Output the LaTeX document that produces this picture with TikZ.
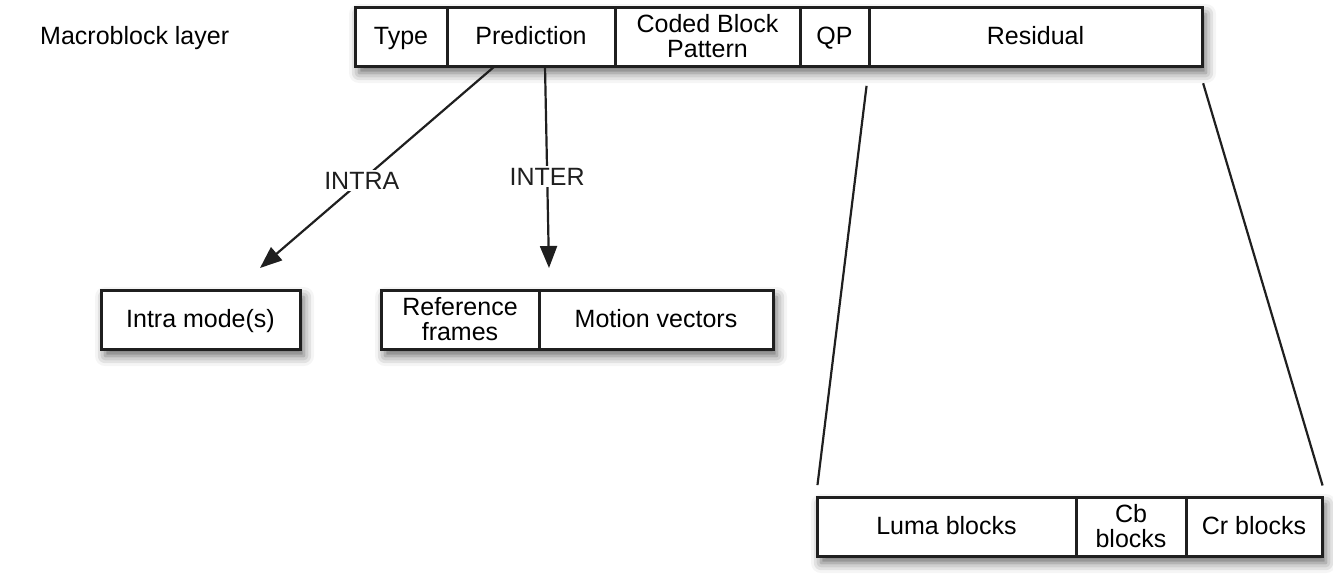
\documentclass[tikz,border=0pt]{standalone}
\usepackage{fontspec}
\setmainfont{Liberation Sans}
\usetikzlibrary{arrows.meta,positioning,fit,backgrounds,shadows.blur}

\begin{document}
\begin{tikzpicture}[x=1pt, y=-1pt,
		cell/.style={rectangle, draw=black!88, line width=3pt, fill=white,
				minimum height=59pt, inner sep=0pt, outer sep=0pt,
				align=center, font=\fontsize{25}{25}\selectfont},
		one/.style={cell, text height=18pt, text depth=3pt},
		shade/.style={rectangle, inner sep=0pt, fill=white,
				blur shadow={shadow xshift=4pt, shadow yshift=-7pt,
				shadow blur radius=10pt, shadow opacity=60}},
		arr/.style={-{Triangle[length=22pt, width=17pt]}, line width=2.2pt, black!88},
		lnk/.style={line width=2.2pt, black!88},
		lbl/.style={fill=white, inner sep=2pt, font=\fontsize{25}{25}\selectfont},
		]
		\useasboundingbox (0,0) rectangle (1333,581);

		% ---- Macroblock layer ----
		\node[font=\fontsize{25}{25}\selectfont, text height=18pt, text depth=3pt,
			inner sep=0pt, anchor=west] (mbl) at (40,36.5) {Macroblock layer};

		\node[one, minimum width=92pt] (type) at (401,36.5) {Type};
		\node[one, minimum width=168pt, right=0pt of type] (pred) {Prediction};
		\node[cell, minimum width=185pt, right=0pt of pred] (cbp) {Coded Block\\Pattern};
		\node[one, minimum width=69pt, right=0pt of cbp] (qp) {QP};
		\node[one, minimum width=333pt, right=0pt of qp] (resid) {Residual};

		% ---- Prediction ----
		\node[one, minimum width=199pt] (intra) at (200.5,319.5) {Intra mode(s)};
		\node[cell, minimum width=158pt] (ref) at (460,319.5) {Reference\\frames};
		\node[one, minimum width=234pt, right=0pt of ref] (mv) {Motion vectors};

		% ---- Residual ----
		\node[one, minimum width=259pt] (luma) at (946.5,526.5) {Luma blocks};
		\node[cell, minimum width=110pt, right=0pt of luma] (cb) {Cb\\blocks};
		\node[one, minimum width=136pt, right=0pt of cb] (cr) {Cr blocks};

		% ---- Schatten ----
		\begin{scope}[on background layer]
			\node[shade, fit=(type)(resid)] {};
			\node[shade, fit=(intra)] {};
			\node[shade, fit=(ref)(mv)] {};
			\node[shade, fit=(luma)(cr)] {};
		\end{scope}

		% ---- Pfeile ----
		\coordinate (intratip) at (260,268);
		\coordinate (intertip) at (549,268);
		\draw[arr] ([xshift=-36pt]pred.south) -- (intratip)
		node[lbl, pos=0.567] (intralbl) {INTRA};
		\draw[arr] ([xshift=14pt]pred.south) -- (intertip)
		node[lbl, pos=0.547] (interlbl) {INTER};

		\draw[lnk, shorten <=20pt, shorten >=12pt] (resid.south west) -- ([xshift=-1pt]luma.north west);
		\draw[lnk, shorten <=18pt, shorten >=12pt] ([xshift=-4pt]resid.south east) -- ([xshift=4pt]cr.north east);

	\end{tikzpicture}
\end{document}
